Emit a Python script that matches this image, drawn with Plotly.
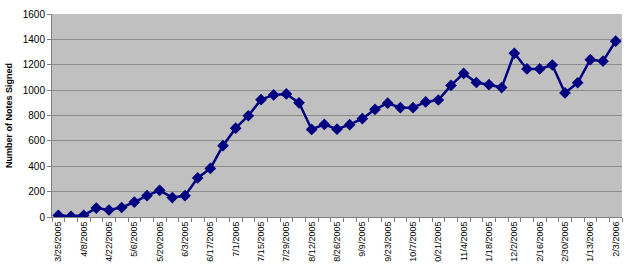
import plotly.graph_objects as go

# weekly counts
notes_signed = [13, 5, 13, 70, 55, 75, 118, 168, 210, 153, 168, 308, 383, 562, 700,
                798, 925, 962, 970, 900, 690, 730, 692, 728, 775, 848, 897, 862, 862,
                907, 922, 1037, 1132, 1060, 1043, 1020, 1290, 1167, 1167, 1198, 978,
                1058, 1240, 1228, 1386]

# every other week is labelled (text as it appears, clipped)
week_labels = ['3/25/2005', '4/8/2005', '4/22/2005', '5/6/2005', '5/20/2005',
               '6/3/2005', '6/17/2005', '7/1/2005', '7/15/2005', '7/29/2005',
               '8/12/2005', '8/26/2005', '9/9/2005', '9/23/2005', '10/7/2005',
               '0/21/2005', '11/4/2005', '1/18/2005', '12/2/2005', '2/16/2005',
               '2/30/2005', '1/13/2006', '2/3/2006']

weeks = list(range(len(notes_signed)))
label_pos = weeks[::2]

fig = go.Figure()
fig.add_trace(go.Scatter(
    x=weeks, y=notes_signed, mode='lines+markers',
    line=dict(color='#000080', width=2.5),
    marker=dict(symbol='diamond', size=9, color='#000080'),
    showlegend=False))

font = 'Liberation Sans, Arial, sans-serif'
fig.update_layout(
    width=630, height=270,
    margin=dict(l=49, r=8, t=12, b=53),
    paper_bgcolor='white', plot_bgcolor='#C0C0C0',
    font=dict(family=font, size=10, color='black'))

fig.update_xaxes(
    range=[-0.5, len(notes_signed) - 0.5],
    tickmode='array', tickvals=label_pos, ticktext=week_labels,
    tickangle=-90, tickfont=dict(size=9), ticks='', ticklen=0,
    showgrid=False, zeroline=False,
    showline=True, linecolor='#808080', linewidth=1,
    minor=dict(ticks='outside', tick0=0.5, dtick=1, ticklen=4,
               tickcolor='#808080', showgrid=False))

fig.update_yaxes(
    range=[0, 1600], dtick=200,
    title=dict(text='<b>Number of Notes Signed</b>', font=dict(size=9), standoff=8),
    ticks='outside', ticklen=4, tickcolor='#808080',
    showgrid=True, gridcolor='#8c8c8c', gridwidth=1,
    zeroline=False, showline=True, linecolor='#808080', linewidth=1,
    mirror=False)

fig.write_html('out.html', config={'displayModeBar': False},
               post_script="document.body.style.margin='0';")
